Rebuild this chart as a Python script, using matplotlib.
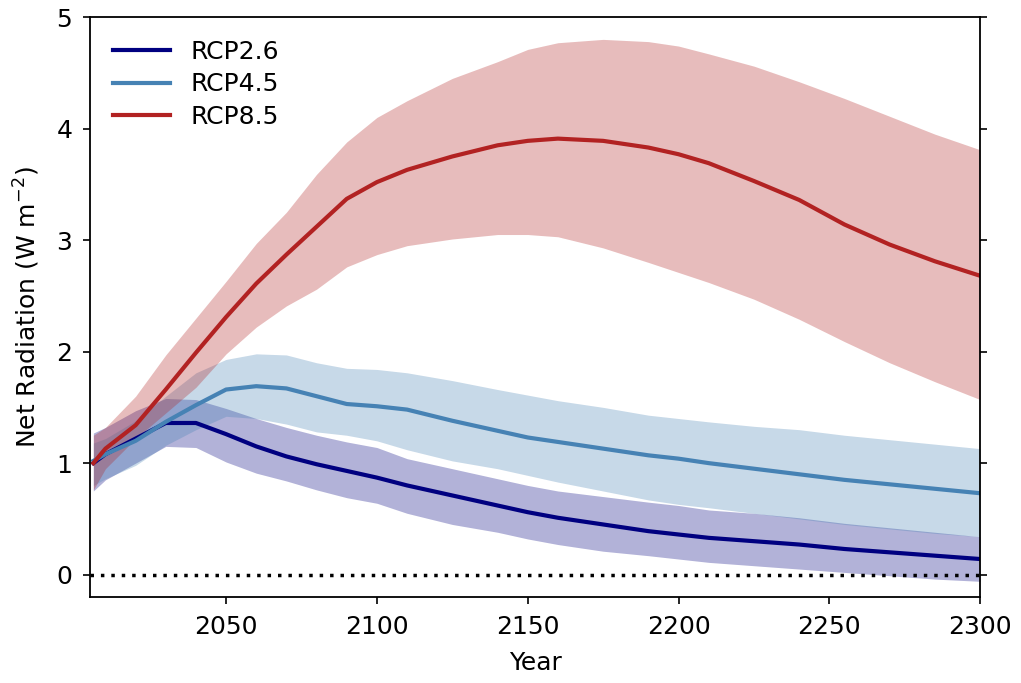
import numpy as np
import matplotlib
matplotlib.use('Agg')
from matplotlib import pyplot as plt

# years shared by all scenarios
years = [2006, 2010, 2020, 2030, 2040, 2050, 2060, 2070, 2080, 2090, 2100, 2110, 2125,
         2140, 2150, 2160, 2175, 2190, 2200, 2210, 2225, 2240, 2255, 2270, 2285, 2300]

# RCP2.6
rcp26_mid = [1.00, 1.08, 1.22, 1.36, 1.36, 1.26, 1.15, 1.06, 0.99, 0.93, 0.87, 0.80, 0.71,
             0.62, 0.56, 0.51, 0.45, 0.39, 0.36, 0.33, 0.30, 0.27, 0.23, 0.20, 0.17, 0.14]
rcp26_hi = [1.27, 1.32, 1.47, 1.58, 1.57, 1.49, 1.40, 1.32, 1.25, 1.19, 1.14, 1.04, 0.95,
            0.86, 0.80, 0.75, 0.70, 0.65, 0.62, 0.58, 0.55, 0.51, 0.46, 0.42, 0.38, 0.34]
rcp26_lo = [0.75, 0.85, 1.00, 1.15, 1.14, 1.01, 0.91, 0.84, 0.76, 0.69, 0.64, 0.55, 0.45,
            0.38, 0.32, 0.27, 0.21, 0.17, 0.14, 0.11, 0.08, 0.05, 0.02, -0.01, -0.04, -0.06]

# RCP4.5
rcp45_mid = [1.02, 1.08, 1.20, 1.37, 1.52, 1.66, 1.69, 1.67, 1.60, 1.53, 1.51, 1.48, 1.38,
             1.29, 1.23, 1.19, 1.13, 1.07, 1.04, 1.00, 0.95, 0.90, 0.85, 0.81, 0.77, 0.73]
rcp45_hi = [1.18, 1.22, 1.38, 1.60, 1.81, 1.93, 1.98, 1.97, 1.90, 1.85, 1.84, 1.81, 1.74,
            1.66, 1.61, 1.56, 1.50, 1.43, 1.40, 1.37, 1.33, 1.30, 1.25, 1.21, 1.17, 1.13]
rcp45_lo = [0.80, 0.86, 0.98, 1.16, 1.30, 1.42, 1.40, 1.35, 1.28, 1.25, 1.20, 1.12, 1.02,
            0.95, 0.89, 0.83, 0.75, 0.67, 0.63, 0.60, 0.55, 0.50, 0.45, 0.41, 0.37, 0.34]

# RCP8.5
rcp85_mid = [1.00, 1.13, 1.34, 1.66, 1.99, 2.31, 2.61, 2.87, 3.12, 3.37, 3.52, 3.63, 3.75,
             3.85, 3.89, 3.91, 3.89, 3.83, 3.77, 3.69, 3.53, 3.36, 3.14, 2.96, 2.81, 2.68]
rcp85_hi = [1.25, 1.32, 1.60, 1.97, 2.30, 2.63, 2.97, 3.25, 3.59, 3.88, 4.10, 4.25, 4.45,
            4.60, 4.71, 4.77, 4.80, 4.78, 4.74, 4.67, 4.56, 4.42, 4.27, 4.11, 3.95, 3.81]
rcp85_lo = [0.76, 0.95, 1.22, 1.45, 1.68, 1.98, 2.22, 2.41, 2.56, 2.76, 2.87, 2.95, 3.01,
            3.05, 3.05, 3.03, 2.93, 2.80, 2.71, 2.62, 2.47, 2.29, 2.09, 1.90, 1.73, 1.57]

labels = ['RCP2.6', 'RCP4.5', 'RCP8.5']
colors = ['navy', 'steelblue', 'firebrick']

fntsize = 18
fig = plt.figure(figsize=(10.21, 6.83), dpi=100)
ax = fig.add_axes([0.0885, 0.126, 0.8715, 0.849])

series = [(rcp26_mid, rcp26_lo, rcp26_hi),
          (rcp45_mid, rcp45_lo, rcp45_hi),
          (rcp85_mid, rcp85_lo, rcp85_hi)]
for (mid, lo, hi), lab, c in zip(series, labels, colors):
    ax.fill_between(years, lo, hi, color=c, alpha=0.3, linewidth=0)
    ax.plot(years, mid, color=c, lw=3.0, label=lab)

ax.axhline(0, color='k', ls=(0, (1, 2)), lw=2.5)

ax.set_xlim(2005, 2300)
ax.set_ylim(-0.2, 5)
ax.set_xticks([2050, 2100, 2150, 2200, 2250, 2300])
ax.set_yticks([0, 1, 2, 3, 4, 5])
ax.tick_params(axis='both', labelsize=fntsize, length=5, width=1.2, pad=8)
ax.tick_params(axis='y', right=True)
for s in ax.spines.values():
    s.set_linewidth(1.3)

ax.set_xlabel('Year', fontsize=fntsize, labelpad=9)
ax.set_ylabel(r'Net Radiation (W m$^{-2}$)', fontsize=fntsize, labelpad=10)
ax.legend(loc='upper left', frameon=False, fontsize=fntsize, handlelength=2.3,
          labelspacing=0.35, handletextpad=0.8)

fig.savefig('out.png', dpi=100)
